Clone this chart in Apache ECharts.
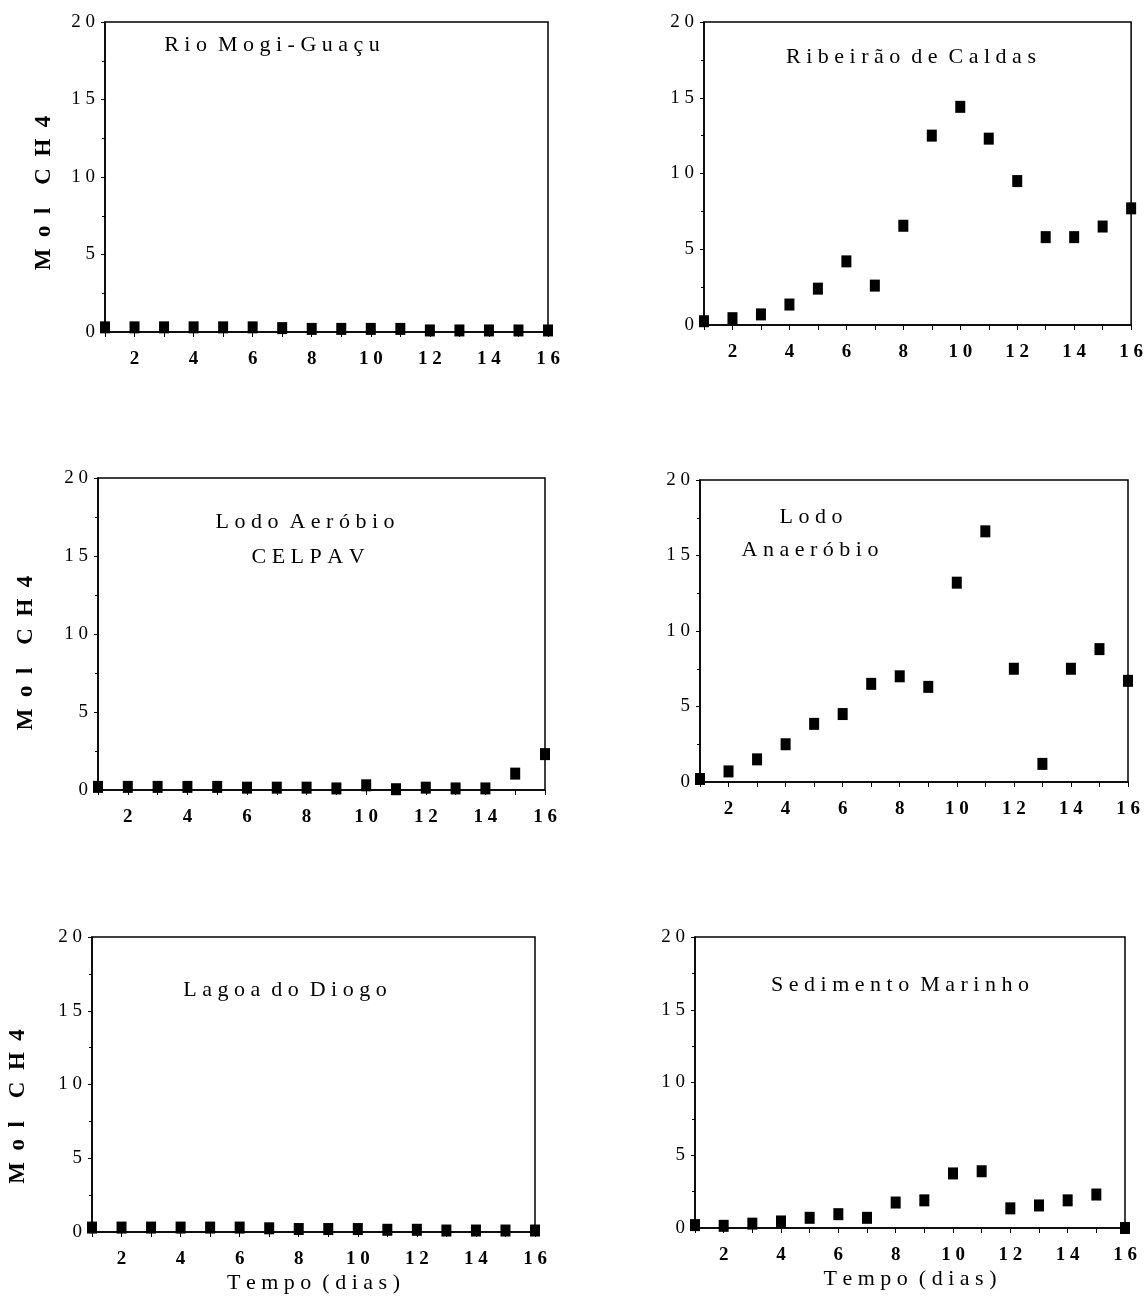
<!DOCTYPE html>
<html>
<head>
<meta charset="utf-8">
<script src="https://cdn.jsdelivr.net/npm/echarts@6/dist/echarts.min.js"></script>
<style>
  html, body { margin: 0; background: #fff; }
  #chart { width: 1146px; height: 1297px; }
</style>
</head>
<body>
<div id="chart"></div>
<script>
// dias de incubação
const days = [1, 2, 3, 4, 5, 6, 7, 8, 9, 10, 11, 12, 13, 14, 15, 16];

// Mol CH4 por amostra
const rioMogiGuacu = [0.3, 0.3, 0.3, 0.3, 0.3, 0.3, 0.25, 0.2, 0.2, 0.2, 0.2, 0.1, 0.1, 0.1, 0.1, 0.1];
const ribeiraoCaldas = [0.25, 0.45, 0.7, 1.35, 2.4, 4.2, 2.6, 6.55, 12.5, 14.4, 12.3, 9.5, 5.8, 5.8, 6.5, 7.7];
const lodoAerobio = [0.2, 0.2, 0.2, 0.2, 0.2, 0.15, 0.15, 0.15, 0.1, 0.3, 0.05, 0.15, 0.1, 0.1, 1.05, 2.3];
const lodoAnaerobio = [0.2, 0.7, 1.5, 2.5, 3.85, 4.5, 6.5, 7.0, 6.3, 13.2, 16.6, 7.5, 1.2, 7.5, 8.8, 6.7];
const lagoaDiogo = [0.3, 0.3, 0.3, 0.3, 0.3, 0.3, 0.25, 0.2, 0.2, 0.2, 0.15, 0.15, 0.1, 0.1, 0.1, 0.1];
const sedimentoMarinho = [0.2, 0.15, 0.3, 0.45, 0.7, 0.95, 0.7, 1.75, 1.9, 3.75, 3.9, 1.35, 1.55, 1.9, 2.3, 0.0];

const panelTitles = [
  ["Rio Mogi-Guaçu"],
  ["Ribeirão de Caldas"],
  ["Lodo Aeróbio", "CELPAV"],
  ["Lodo", "Anaeróbio"],
  ["Lagoa do Diogo"],
  ["Sedimento Marinho"]
];
const yTitle = "Mol CH4";
const xTitle = "Tempo (dias)";

const panels = [rioMogiGuacu, ribeiraoCaldas, lodoAerobio, lodoAnaerobio, lagoaDiogo, sedimentoMarinho];

// layout of the 6 plots
const grids = [
  { left: 105, top: 22, width: 443, height: 310 },
  { left: 704, top: 22, width: 431, height: 303 },
  { left: 98, top: 478, width: 447, height: 312 },
  { left: 700, top: 480, width: 428, height: 302 },
  { left: 92, top: 937, width: 443, height: 295 },
  { left: 695, top: 937, width: 430, height: 291 }
];
const titlePos = [
  [[272, 45]],
  [[911, 57]],
  [[305, 522], [308, 557]],
  [[811, 517], [810, 550]],
  [[285, 990]],
  [[900, 985]]
];
// y title gap and downward shift (as right padding of the rotated text)
const yNameGap = [49, 0, 60, 0, 62, 0];
const yNameShift = [32, 0, 38, 0, 44, 0];

const FONT = "'Liberation Serif', 'DejaVu Serif', serif";

// the scanned figure has wide letter spacing
const spread = (s, sep = " ", wsep = "  ") =>
  s.split(" ").map(w => w.split("").join(sep)).join(wsep);

const chart = echarts.init(document.getElementById("chart"));

const option = {
  backgroundColor: "#fff",
  animation: false,
  grid: grids.map(g => ({
    ...g,
    show: true,
    borderColor: "#000",
    borderWidth: 1.5,
    backgroundColor: "transparent"
  })),
  xAxis: grids.map((g, i) => ({
    gridIndex: i,
    type: "value",
    min: 1,
    max: 16,
    interval: 1,
    name: i >= 4 ? spread(xTitle) : "",
    nameLocation: "middle",
    nameGap: 40,
    nameTextStyle: { color: "#000", fontFamily: FONT, fontSize: 22 },
    axisLine: { show: true, lineStyle: { color: "#000", width: 1.5 } },
    axisTick: { show: true, length: 5, lineStyle: { color: "#000" } },
    splitLine: { show: false },
    axisLabel: {
      margin: 18,
      color: "#000",
      fontFamily: FONT,
      fontWeight: "bold",
      fontSize: 19,
      formatter: v => (v % 2 === 0 ? spread(String(v)) : "")
    }
  })),
  yAxis: grids.map((g, i) => ({
    gridIndex: i,
    type: "value",
    min: 0,
    max: 20,
    interval: 5,
    name: yNameGap[i] ? spread(yTitle, "\u2002", "\u2002\u2002") : "",
    nameLocation: "middle",
    nameRotate: 90,
    nameGap: yNameGap[i],
    nameTextStyle: {
      color: "#000",
      fontFamily: FONT,
      fontSize: 23,
      fontWeight: "bold",
      padding: [0, yNameShift[i], 0, 0]
    },
    axisLine: { show: true, lineStyle: { color: "#000", width: 1.5 } },
    axisTick: { show: true, length: 4, lineStyle: { color: "#000" } },
    minorTick: { show: true, splitNumber: 2, length: 3, lineStyle: { color: "#000" } },
    splitLine: { show: false },
    axisLabel: {
      margin: 10,
      color: "#000",
      fontFamily: FONT,
      fontSize: 19,
      formatter: v => spread(String(v))
    }
  })),
  series: panels.map((vals, i) => ({
    type: "scatter",
    xAxisIndex: i,
    yAxisIndex: i,
    symbol: "rect",
    symbolSize: [10, 12],
    clip: false,
    itemStyle: { color: "#000", opacity: 1 },
    data: days.map((d, k) => [d, vals[k]])
  })),
  graphic: panelTitles.flatMap((lines, i) =>
    lines.map((txt, j) => ({
      type: "text",
      x: titlePos[i][j][0],
      y: titlePos[i][j][1],
      style: {
        text: spread(txt),
        fill: "#000",
        font: "22px " + FONT,
        textAlign: "center",
        textVerticalAlign: "middle",
        align: "center",
        verticalAlign: "middle"
      }
    }))
  )
};

chart.setOption(option);
</script>
</body>
</html>
